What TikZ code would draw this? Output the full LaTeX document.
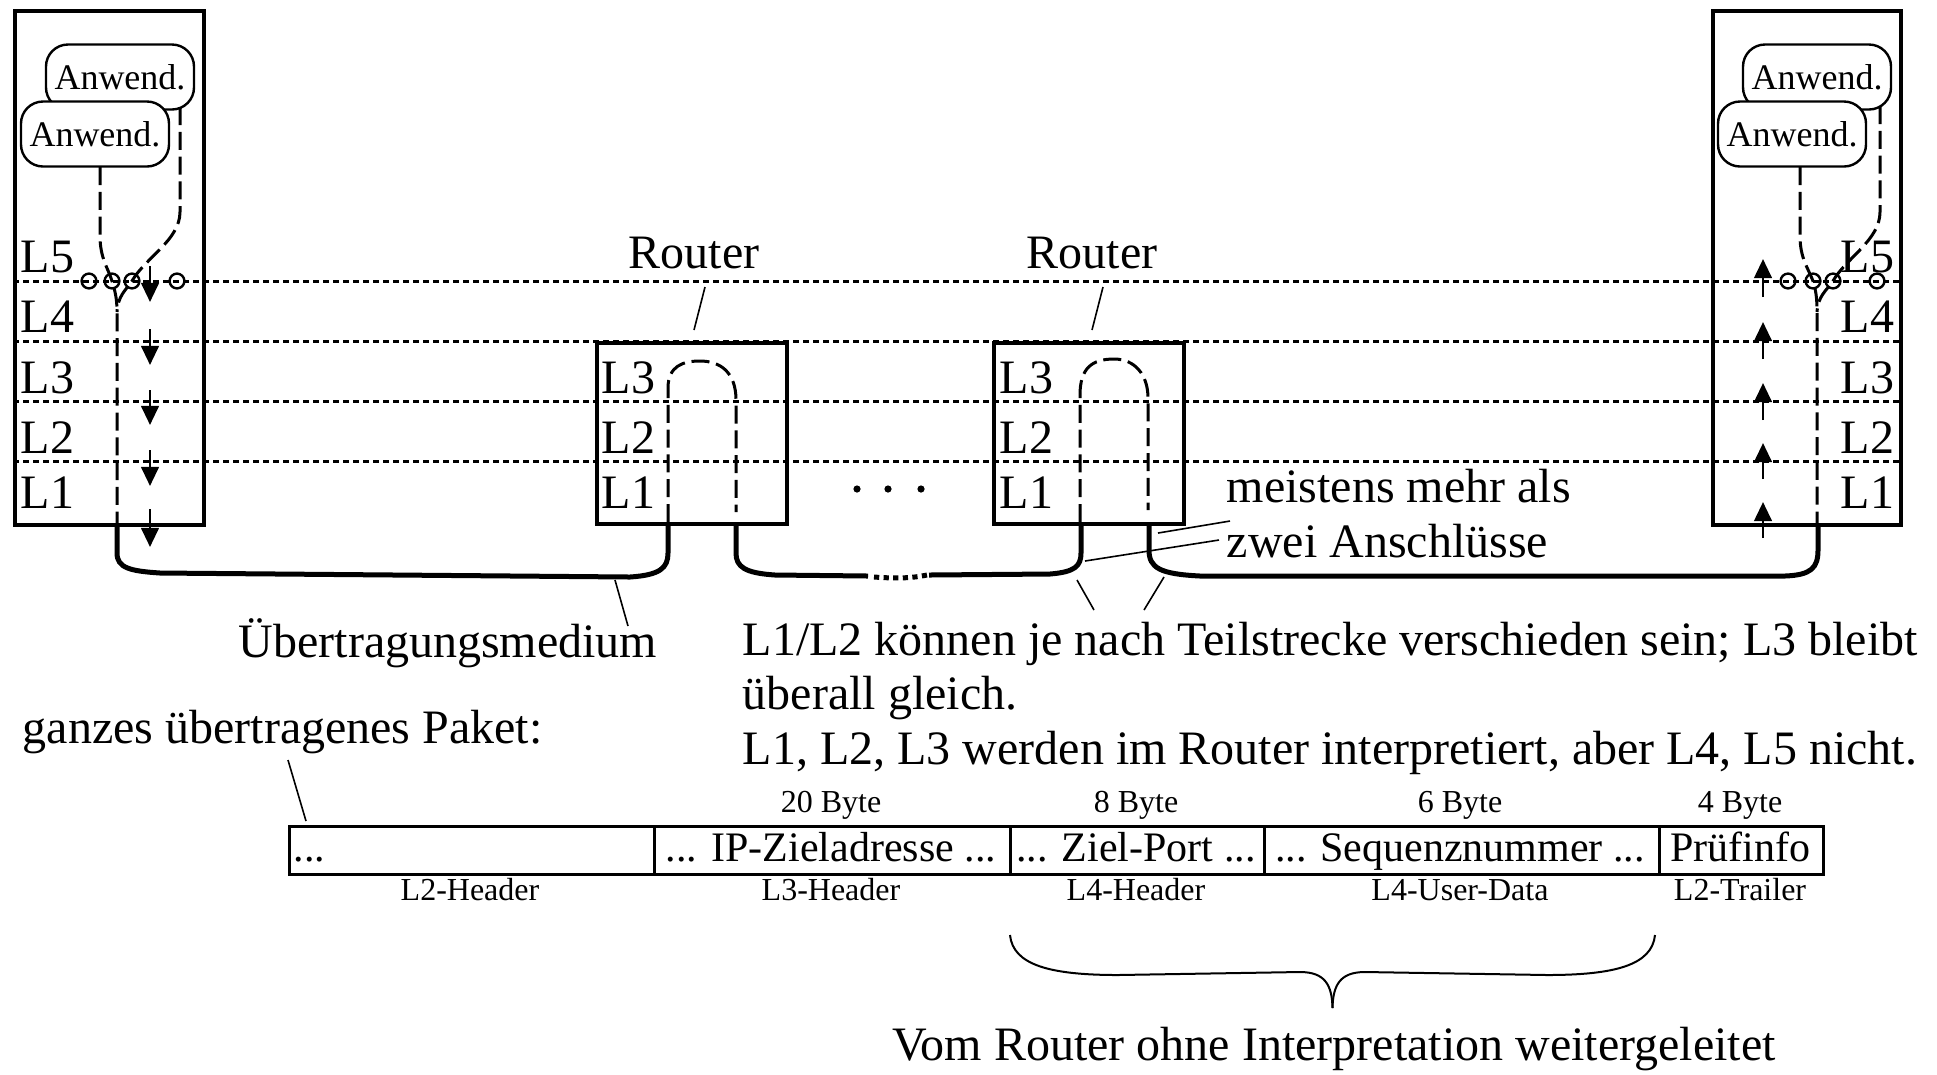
\documentclass[tikz,border=0pt]{standalone}
\usepackage{fontspec}
\setmainfont{Liberation Serif}
\usetikzlibrary{arrows.meta}
\begin{document}
\begin{tikzpicture}[x=0.25pt,y=-0.25pt,
  hostbox/.style={draw, line width=1.1pt, minimum height=128.5pt, inner sep=0pt, anchor=north west},
  routerbox/.style={draw, line width=1pt, minimum width=47.5pt, minimum height=45.25pt, inner sep=0pt, anchor=north west},
  layerline/.style={line width=0.75pt, dash pattern=on 1.4pt off 1.1pt},
  appnode/.style={draw, fill=white, rounded corners=5.5pt, line width=0.6pt, minimum width=37pt, minimum height=16.25pt, inner sep=0pt, font=\fontsize{9}{10}\selectfont},
  flow/.style={line width=0.75pt, dash pattern=on 4.5pt off 1.7pt},
  cable/.style={line width=1.25pt},
  leader/.style={line width=0.4pt},
  lbl/.style={inner sep=0pt, font=\fontsize{12}{14}\selectfont},
  small/.style={inner sep=0pt, font=\fontsize{8}{9}\selectfont},
  celltext/.style={inner sep=0pt, font=\fontsize{10.5}{12}\selectfont},
  cellbox/.style={draw, line width=0.7pt, minimum height=12pt, inner sep=0pt, anchor=north west},
  layerarrow/.style={line width=0.7pt, -{Triangle[length=4.8pt,width=4.4pt]}},
  sap/.style={draw, circle, line width=0.6pt, minimum size=3.7pt, inner sep=0pt},
  dotfill/.style={fill, circle, minimum size=1.8pt, inner sep=0pt}
]
\useasboundingbox (0,0) rectangle (1937,1074);

% layer lines
\foreach \y in {281,341,401,461} \draw[layerline] (13,\y) -- (1899,\y);

% hosts and routers
\node[hostbox, minimum width=47.25pt] (hostL) at (13,9) {};
\node[hostbox, minimum width=47pt] (hostR) at (1711,9) {};
\node[routerbox] (r1) at (595,341) {};
\node[routerbox] (r2) at (992,341) {};

% layer labels
\foreach \t/\y in {L5/272,L4/332,L3/393,L2/453,L1/508} {
  \node[lbl, anchor=base west] (hl\t) at (20,\y) {\t};
  \node[lbl, anchor=base east] (hr\t) at (1895,\y) {\t};
}
\foreach \t/\y in {L3/393,L2/453,L1/508} {
  \node[lbl, anchor=base west] (ra\t) at (601,\y) {\t};
  \node[lbl, anchor=base west] (rb\t) at (999,\y) {\t};
}

% application nodes
\node[appnode] (appLb) at (120,77) {Anwend.};
\node[appnode] (appLf) at (95,134) {Anwend.};
\node[appnode] (appRb) at (1817,77) {Anwend.};
\node[appnode] (appRf) at (1792,134) {Anwend.};

% service access points
\foreach \x/\n in {89/1,112/2,132/3,177/4} \node[sap] (sL\n) at (\x,281) {};
\foreach \x/\n in {1788/1,1813/2,1833/3,1877/4} \node[sap] (sR\n) at (\x,281) {};

% dashed flows in hosts
\draw[flow] (100,167) -- (100,236) .. controls (100,258) and (108,268) .. (112,281) .. controls (115,291) and (117,298) .. (117,312) -- (117,523);
\draw[flow] (180,107) -- (180,212) .. controls (180,240) and (145,258) .. (132,281) .. controls (125,291) and (118,296) .. (117,312);
\draw[flow] (1800,167) -- (1800,236) .. controls (1800,258) and (1808,268) .. (1813,281) .. controls (1816,291) and (1817,298) .. (1817,312) -- (1817,523);
\draw[flow] (1880,106) -- (1880,212) .. controls (1880,240) and (1846,258) .. (1833,281) .. controls (1826,291) and (1818,296) .. (1817,312);

% dashed flows in routers
\draw[flow] (668,522) -- (668,388) .. controls (668,366) and (683,361) .. (700,361) .. controls (720,361) and (736,372) .. (736,400) -- (736,512);
\draw[flow] (1080,522) -- (1080,395) .. controls (1080,368) and (1092,359) .. (1114,359) .. controls (1135,359) and (1148,375) .. (1148,398) -- (1148,510);

% layer arrows
\foreach \a/\b in {266/302, 329/365, 390/425, 450/486, 509/547} \draw[layerarrow] (150,\a) -- (150,\b);
\foreach \a/\b in {297/259, 359/322, 420/383, 479/443, 538/502} \draw[layerarrow] (1763,\a) -- (1763,\b);

% cables
\draw[cable] (117,523) -- (117,553) .. controls (117,568) and (130,571) .. (160,573) -- (630,577) .. controls (660,575) and (668,568) .. (668,553) -- (668,522);
\draw[cable] (736,522) -- (736,553) .. controls (736,567) and (745,573) .. (775,575) -- (868,576);
\draw[cable, dash pattern=on 1.3pt off 1.1pt] (874,577) .. controls (895,578.5) and (910,578.5) .. (927,575);
\draw[cable] (929,575) -- (1050,574) .. controls (1075,572) and (1081,566) .. (1081,553) -- (1081,522);
\draw[cable] (1149,522) -- (1149,550) .. controls (1149,568) and (1160,574) .. (1200,576) -- (1785,576) .. controls (1811,575) and (1818,568) .. (1818,550) -- (1818,523);

% ellipsis between routers
\foreach \x/\n in {857/1,888/2,921/3} \node[dotfill] (el\n) at (\x,489) {};

% router labels
\node[lbl, anchor=base] (rt1) at (694,268) {Router};
\node[lbl, anchor=base] (rt2) at (1092,268) {Router};
\draw[leader] (705,287) -- (694,330);
\draw[leader] (1103,287) -- (1092,330);

% Uebertragungsmedium
\node[lbl, anchor=base] (med) at (448,657) {Übertragungsmedium};
\draw[leader] (615,580) -- (628,626);

% meistens mehr als zwei Anschluesse
\node[lbl, anchor=base west] (m1) at (1226,502) {meistens mehr als};
\node[lbl, anchor=base west] (m2) at (1226,557) {zwei Anschlüsse};
\draw[leader] (1158,533) -- (1230,521);
\draw[leader] (1085,561) -- (1219,540);

% L1/L2 text
\node[lbl, anchor=base west] (t1) at (742,655) {L1/L2 können je nach Teilstrecke verschieden sein; L3 bleibt};
\node[lbl, anchor=base west] (t2) at (742,709) {überall gleich.};
\node[lbl, anchor=base west] (t3) at (742,764) {L1, L2, L3 werden im Router interpretiert, aber L4, L5 nicht.};
\draw[leader] (1077,580) -- (1094,610);
\draw[leader] (1164,577) -- (1144,610);

% packet
\node[lbl, anchor=base west] (pk) at (22,743) {ganzes übertragenes Paket:};
\node[cellbox, minimum width=91.25pt] (c1) at (288,825) {};
\node[cellbox, minimum width=89pt] (c2) at (653,825) {};
\node[cellbox, minimum width=63.5pt] (c3) at (1009,825) {};
\node[cellbox, minimum width=98.75pt] (c4) at (1263,825) {};
\node[cellbox, minimum width=41pt] (c5) at (1658,825) {};
\draw[leader] (288,760) -- (306,821);

\node[celltext, anchor=base west] (x1) at (293,861) {...};
\node[celltext, anchor=base] (x2) at (831,861) {... IP-Zieladresse ...};
\node[celltext, anchor=base] (x3) at (1136,861) {... Ziel-Port ...};
\node[celltext, anchor=base] (x4) at (1460,861) {... Sequenznummer ...};
\node[celltext, anchor=base] (x5) at (1740,861) {Prüfinfo};

\node[small, anchor=base] (b2) at (831,812) {20 Byte};
\node[small, anchor=base] (b3) at (1136,812) {8 Byte};
\node[small, anchor=base] (b4) at (1460,812) {6 Byte};
\node[small, anchor=base] (b5) at (1740,812) {4 Byte};

\node[small, anchor=base] (h1) at (470,900) {L2-Header};
\node[small, anchor=base] (h2) at (831,900) {L3-Header};
\node[small, anchor=base] (h3) at (1136,900) {L4-Header};
\node[small, anchor=base] (h4) at (1460,900) {L4-User-Data};
\node[small, anchor=base] (h5) at (1740,900) {L2-Trailer};

% brace
\draw[line width=0.5pt] (1010,935) .. controls (1013,965) and (1050,975) .. (1118,975) -- (1300,972) .. controls (1325,972) and (1332,985) .. (1332.5,1008);
\draw[line width=0.5pt] (1655,935) .. controls (1652,965) and (1615,975) .. (1547,975) -- (1365,972) .. controls (1340,972) and (1333,985) .. (1332.5,1008);
\node[lbl, anchor=base] (vom) at (1334,1060) {Vom Router ohne Interpretation weitergeleitet};
\end{tikzpicture}
\end{document}
